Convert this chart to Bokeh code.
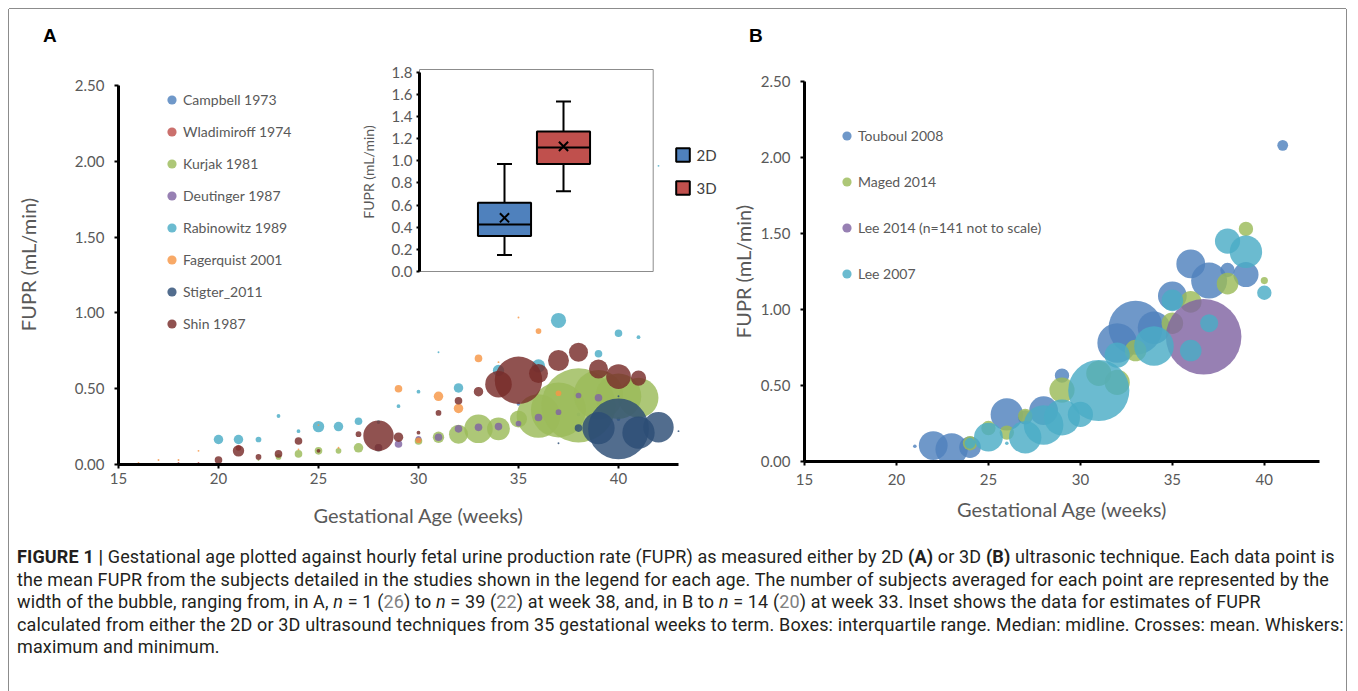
from bokeh.plotting import figure
from bokeh.models import (Range1d, LinearAxis, FixedTicker, NumeralTickFormatter,
                          Legend, LegendItem, ColumnDataSource, Div)
from bokeh.layouts import column, row
from bokeh.embed import file_html
from bokeh.resources import INLINE

# ---------------- Panel A data (2D ultrasound) ----------------
a_campbell_wk = [35, 38, 40]
a_campbell_fupr = [0.40, 0.33, 0.30]
a_campbell_n = [2, 2, 2]

a_wlad_wk = [18, 19, 21, 30]
a_wlad_fupr = [0.01, 0.01, 0.11, 0.16]
a_wlad_n = [1, 1, 3, 3]

a_kurjak_wk = [22, 23, 24, 25, 26, 27, 28, 30, 31, 32, 33, 34, 35, 36, 37, 38, 39, 40, 41]
a_kurjak_fupr = [0.03, 0.05, 0.07, 0.09, 0.09, 0.11, 0.11, 0.155, 0.18, 0.20, 0.235, 0.235,
                 0.30, 0.32, 0.36, 0.39, 0.46, 0.45, 0.44]
a_kurjak_n = [1, 3, 4, 4, 3, 5, 4, 4, 6, 10, 15, 12, 9, 23, 29, 39, 26, 24, 21]

a_deut_wk = [28, 29, 30, 31, 32, 33, 34, 35, 36, 37, 38, 39]
a_deut_fupr = [0.11, 0.135, 0.17, 0.18, 0.235, 0.245, 0.25, 0.27, 0.31, 0.345, 0.455, 0.44]
a_deut_n = [4, 4, 3, 4, 4, 4, 4, 3, 4, 3, 3, 4]

a_rabin_wk = [20, 21, 22, 23, 24, 25, 26, 27, 28, 29, 30, 31, 32, 34, 36, 37, 39, 40, 41, 42]
a_rabin_fupr = [0.165, 0.165, 0.165, 0.32, 0.22, 0.25, 0.25, 0.285, 0.28, 0.385, 0.48, 0.74,
                0.505, 0.62, 0.65, 0.95, 0.73, 0.866, 0.84, 1.97]
a_rabin_n = [5, 5, 3, 2, 2, 6, 5, 4, 2, 2, 2, 1, 5, 6, 7, 8, 4, 4, 2, 1]

a_fager_wk = [16, 17, 18, 19, 24, 25, 26, 29, 30, 31, 32, 33, 34, 35, 36, 37]
a_fager_fupr = [0.01, 0.03, 0.03, 0.09, 0.10, 0.26, 0.11, 0.50, 0.16, 0.45, 0.37, 0.70,
                0.675, 0.97, 0.88, 0.47]
a_fager_n = [1, 1, 1, 1, 1, 1, 1, 4, 3, 5, 5, 4, 1, 1, 3, 3]

a_stig_wk = [37, 38, 39, 40, 40, 41, 42, 43]
a_stig_fupr = [0.14, 0.24, 0.24, 0.235, 0.45, 0.21, 0.246, 0.22]
a_stig_n = [1, 4, 17, 32, 1, 17, 16, 1]

a_shin_wk = [20, 21, 22, 23, 24, 25, 27, 28, 29, 30, 31, 32, 33, 34, 35, 36, 37, 38, 39, 40, 41]
a_shin_fupr = [0.03, 0.09, 0.05, 0.07, 0.155, 0.09, 0.20, 0.19, 0.18, 0.21, 0.34, 0.42, 0.48,
               0.53, 0.555, 0.60, 0.686, 0.74, 0.63, 0.58, 0.57]
a_shin_n = [4, 6, 3, 4, 4, 2, 3, 16, 5, 2, 3, 4, 5, 14, 25, 10, 11, 10, 10, 13, 8]

# ---------------- Inset data (box plot, FUPR mL/min) ----------------
inset_groups = ["2D", "3D"]
inset_min = [0.15, 0.725]
inset_q1 = [0.32, 0.97]
inset_median = [0.425, 1.12]
inset_q3 = [0.62, 1.265]
inset_max = [0.97, 1.535]
inset_mean = [0.485, 1.13]

# ---------------- Panel B data (3D ultrasound) ----------------
b_toub_wk = [21, 22, 23, 24, 26, 27, 28, 29, 32, 33, 34, 35, 36, 37, 38, 39, 41]
b_toub_fupr = [0.10, 0.105, 0.08, 0.094, 0.31, 0.29, 0.335, 0.565, 0.78, 0.88, 0.88, 1.09,
               1.30, 1.19, 1.26, 1.23, 2.08]
b_toub_n = [1, 8, 9, 6, 9, 4, 8, 4, 11, 15, 9, 8, 8, 10, 4, 7, 3]

b_maged_wk = [24, 25, 26, 27, 29, 31, 32, 33, 35, 36, 38, 39, 40]
b_maged_fupr = [0.12, 0.22, 0.19, 0.30, 0.47, 0.58, 0.52, 0.73, 0.91, 1.05, 1.17, 1.53, 1.19]
b_maged_n = [4, 4, 4, 4, 7, 7, 7, 6, 6, 6, 6, 4, 2]

b_lee14_wk = [36.7]
b_lee14_fupr = [0.82]
b_lee14_n = [21]  # n = 141, plotted not to scale

b_lee07_wk = [24, 25, 26, 27, 28, 29, 30, 31, 32, 34, 35, 36, 37, 38, 39, 40]
b_lee07_fupr = [0.12, 0.16, 0.12, 0.16, 0.24, 0.29, 0.31, 0.467, 0.70, 0.76, 1.06, 0.73, 0.91,
                1.45, 1.38, 1.11]
b_lee07_n = [3, 8, 1, 9, 11, 10, 7, 17, 7, 11, 6, 6, 5, 7, 9, 4]

x_ticks = [15, 20, 25, 30, 35, 40]
y_ticks = [0, 0.5, 1.0, 1.5, 2.0, 2.5]
inset_ticks = [0, 0.2, 0.4, 0.6, 0.8, 1.0, 1.2, 1.4, 1.6, 1.8]

# ---------------- styling ----------------
FONT = "Lato"
GREY = "#595959"
A_PX_PER_N = 1.9
B_PX_PER_N = 3.6
ALPHA = 0.82
TOP = 50          # y (px) where the figures start
BOTTOM = 530      # y (px) where the figures end


def style_axis(ax, label_standoff, tick_standoff):
    ax.axis_line_width = 3
    ax.axis_line_color = "black"
    ax.major_tick_line_width = 2
    ax.major_tick_line_color = "black"
    ax.major_tick_in = 0
    ax.major_tick_out = 4
    ax.minor_tick_line_color = None
    ax.major_label_text_font = FONT
    ax.major_label_text_font_size = "15px"
    ax.major_label_text_color = GREY
    ax.major_label_standoff = tick_standoff
    ax.axis_label_text_font = FONT
    ax.axis_label_text_font_size = "20px"
    ax.axis_label_text_font_style = "normal"
    ax.axis_label_text_color = GREY
    ax.axis_label_standoff = label_standoff


def make_panel(width, x_end, y_end, borders, xl_st, yl_st, xt_st, yt_st):
    p = figure(width=width, height=BOTTOM - TOP, x_range=Range1d(15, x_end),
               y_range=Range1d(0, y_end), output_backend="svg", toolbar_location=None,
               min_border_left=borders[0], min_border_right=borders[1],
               min_border_top=borders[2], min_border_bottom=borders[3])
    p.frame_align = False
    p.outline_line_color = None
    p.grid.visible = False
    p.xaxis.ticker = FixedTicker(ticks=x_ticks)
    p.yaxis.ticker = FixedTicker(ticks=y_ticks)
    p.xaxis.bounds = (15, 43)
    p.yaxis.bounds = (0, 2.5)
    p.yaxis.formatter = NumeralTickFormatter(format="0.00")
    p.xaxis.axis_label = "Gestational Age (weeks)"
    p.yaxis.axis_label = "FUPR (mL/min)"
    style_axis(p.xaxis[0], xl_st, xt_st)
    style_axis(p.yaxis[0], yl_st, yt_st)
    return p


def bubbles(p, wk, fupr, n, scale, color):
    src = ColumnDataSource(dict(wk=wk, fupr=fupr, d=[scale * v for v in n]))
    return p.scatter(x="wk", y="fupr", size="d", source=src, marker="circle",
                     fill_color=color, fill_alpha=ALPHA, line_color=None)


def bubble_legend(items, location, spacing):
    return Legend(items=items, location=location, glyph_width=23, glyph_height=23,
                  spacing=spacing, label_standoff=-2, padding=0, margin=0,
                  border_line_color=None, background_fill_alpha=0,
                  label_text_font=FONT, label_text_font_size="14px",
                  label_text_color=GREY)


# ================= Panel A =================
# frame: x 118..718 (20 px / week), y 64..464 (151.6 px per mL/min, 2.50 at 85)
FA_L, FA_R, FA_T, FA_B = 118, 718, 64, 464
A_PX_WEEK, A_PX_UNIT = 20.0, 151.6
pA = make_panel(711, 15 + (FA_R - FA_L) / A_PX_WEEK, (FA_B - FA_T) / A_PX_UNIT,
                (FA_L - 9, 720 - FA_R, FA_T - TOP, BOTTOM - FA_B), 16, 32, 4, 10)

a_series = [
    ("Campbell 1973", a_campbell_wk, a_campbell_fupr, a_campbell_n, "#4F81BD"),
    ("Wladimiroff 1974", a_wlad_wk, a_wlad_fupr, a_wlad_n, "#C0504D"),
    ("Kurjak 1981", a_kurjak_wk, a_kurjak_fupr, a_kurjak_n, "#9BBB59"),
    ("Deutinger 1987", a_deut_wk, a_deut_fupr, a_deut_n, "#8064A2"),
    ("Rabinowitz 1989", a_rabin_wk, a_rabin_fupr, a_rabin_n, "#4BACC6"),
    ("Fagerquist 2001", a_fager_wk, a_fager_fupr, a_fager_n, "#F79646"),
    ("Stigter_2011", a_stig_wk, a_stig_fupr, a_stig_n, "#2C4D75"),
    ("Shin 1987", a_shin_wk, a_shin_fupr, a_shin_n, "#772C2A"),
]
a_items = []
for name, wk, fu, n, col in a_series:
    r = bubbles(pA, wk, fu, n, A_PX_PER_N, col)
    a_items.append(LegendItem(label=name, renderers=[r]))
pA.add_layout(bubble_legend(a_items, (42, 129), 9))

# ---- inset box plot inside panel A (own ranges mapped onto a sub-area) ----
IN_X1, IN_DX = 504, 59                              # px of group 1, px per group
IN_Y0, IN_DY = 271, 110.7                           # px of 0.0, px per mL/min
IN_LEFT, IN_RIGHT, IN_TOP = 419, 652.7, 69          # inset plot-area edges, px
ix = lambda px: 1 + (px - IN_X1) / IN_DX
iy = lambda py: (IN_Y0 - py) / IN_DY
pA.extra_x_ranges = {"ix": Range1d(ix(FA_L), ix(FA_R))}
pA.extra_y_ranges = {"iy": Range1d(iy(FA_B), iy(FA_T))}

pA.quad(left=[ix(IN_LEFT)], right=[ix(IN_RIGHT)], bottom=[0], top=[iy(IN_TOP)],
        x_range_name="ix", y_range_name="iy", fill_color="white",
        line_color="#8c8c8c", line_width=1)

pos = [1, 2]
box_half = 0.45
cap_half = 0.127
box_colors = ["#4F81BD", "#C0504D"]
pA.segment(x0=pos, y0=inset_q3, x1=pos, y1=inset_max, x_range_name="ix", y_range_name="iy",
           line_color="black", line_width=2)
pA.segment(x0=pos, y0=inset_q1, x1=pos, y1=inset_min, x_range_name="ix", y_range_name="iy",
           line_color="black", line_width=2)
pA.segment(x0=[p - cap_half for p in pos], y0=inset_max, x1=[p + cap_half for p in pos],
           y1=inset_max, x_range_name="ix", y_range_name="iy", line_color="black", line_width=2)
pA.segment(x0=[p - cap_half for p in pos], y0=inset_min, x1=[p + cap_half for p in pos],
           y1=inset_min, x_range_name="ix", y_range_name="iy", line_color="black", line_width=2)
box_items = []
for i, g in enumerate(inset_groups):
    rb = pA.quad(left=[pos[i] - box_half], right=[pos[i] + box_half], bottom=[inset_q1[i]],
                 top=[inset_q3[i]], x_range_name="ix", y_range_name="iy",
                 fill_color=box_colors[i], line_color="black", line_width=2)
    box_items.append(LegendItem(label=g, renderers=[rb]))
pA.segment(x0=[p - box_half for p in pos], y0=inset_median, x1=[p + box_half for p in pos],
           y1=inset_median, x_range_name="ix", y_range_name="iy", line_color="black", line_width=2)
pA.scatter(x=pos, y=inset_mean, marker="x", size=13, line_color="black", line_width=2,
           x_range_name="ix", y_range_name="iy")

inset_axis = LinearAxis(x_range_name="ix", y_range_name="iy", fixed_location=ix(IN_LEFT),
                        bounds=(0, 1.8), ticker=FixedTicker(ticks=inset_ticks),
                        formatter=NumeralTickFormatter(format="0.0"),
                        axis_label="FUPR (mL/min)")
style_axis(inset_axis, 12, 4)
inset_axis.major_tick_out = 3
inset_axis.major_label_text_font_size = "15px"
inset_axis.axis_label_text_font_size = "14px"
pA.add_layout(inset_axis, "left")

inset_leg = Legend(items=box_items, location=(673.5 - FA_L, FA_B - 196.5),
                   glyph_width=17, glyph_height=17, spacing=15, label_standoff=6,
                   padding=0, margin=0, border_line_color=None, background_fill_alpha=0,
                   label_text_font=FONT, label_text_font_size="15px", label_text_color="#404040")
pA.add_layout(inset_leg)

# ================= Panel B =================
# frame: x 804..1319 (18.4 px / week), y 81..461 (152 px per mL/min)
FB_L, FB_R, FB_T, FB_B = 804, 1319, 81, 461
pB = make_panel(626, 43, 2.5, (FB_L - 720, 1346 - FB_R, FB_T - TOP, BOTTOM - FB_B),
                9, 3, 8, 10)
b_series = [
    ("Touboul 2008", b_toub_wk, b_toub_fupr, b_toub_n, "#4F81BD"),
    ("Maged 2014", b_maged_wk, b_maged_fupr, b_maged_n, "#9BBB59"),
    ("Lee 2014 (n=141 not to scale)", b_lee14_wk, b_lee14_fupr, b_lee14_n, "#8064A2"),
    ("Lee 2007", b_lee07_wk, b_lee07_fupr, b_lee07_n, "#4BACC6"),
]
b_items = []
for name, wk, fu, n, col in b_series:
    r = bubbles(pB, wk, fu, n, B_PX_PER_N, col)
    b_items.append(LegendItem(label=name, renderers=[r]))
pB.add_layout(bubble_legend(b_items, (31, 176), 23))

# ================= Panel letters =================
letters = Div(text=(
    '<div style="position:relative;width:1337px;height:41px;'
    'font-family:\'Liberation Sans\',Arial,sans-serif;font-weight:bold;font-size:19px;'
    'line-height:19px;color:#000;">'
    '<span style="position:absolute;left:34px;top:17px;">A</span>'
    '<span style="position:absolute;left:740px;top:17px;">B</span></div>'),
    width=1337, height=TOP - 9, margin=0)

# ================= Caption =================
G = '<span style="color:#808080">'
caption_html = (
    '<div style="font-family:\'Roboto\',sans-serif;font-size:18px;letter-spacing:0.14px;'
    'line-height:22.5px;color:#231f20;white-space:nowrap;padding:16px 0 0 8px;">'
    '<b>FIGURE 1 |</b> Gestational age plotted against hourly fetal urine production rate (FUPR) '
    'as measured either by 2D <b>(A)</b> or 3D <b>(B)</b> ultrasonic technique. Each data point is<br>'
    'the mean FUPR from the subjects detailed in the studies shown in the legend for each age. '
    'The number of subjects averaged for each point are represented by the<br>'
    'width of the bubble, ranging from, in A, <i>n</i> = 1 (' + G + '26</span>) to <i>n</i> = 39 ('
    + G + '22</span>) at week 38, and, in B to <i>n</i> = 14 (' + G + '20</span>) at week 33. '
    'Inset shows the data for estimates of FUPR<br>'
    'calculated from either the 2D or 3D ultrasound techniques from 35 gestational weeks to term. '
    'Boxes: interquartile range. Median: midline. Crosses: mean. Whiskers:<br>'
    'maximum and minimum.</div>'
)
cap = Div(text=caption_html, width=1337, height=691 - BOTTOM, margin=0)

root = column(letters, row(pA, pB), cap, margin=(9, 0, 0, 9),
              styles={"box-shadow": "-1px 0 0 #8c8c8c, 1px 0 0 #8c8c8c, 0 -1px 0 #8c8c8c"})

open("out.html", "w").write(file_html(root, INLINE))
